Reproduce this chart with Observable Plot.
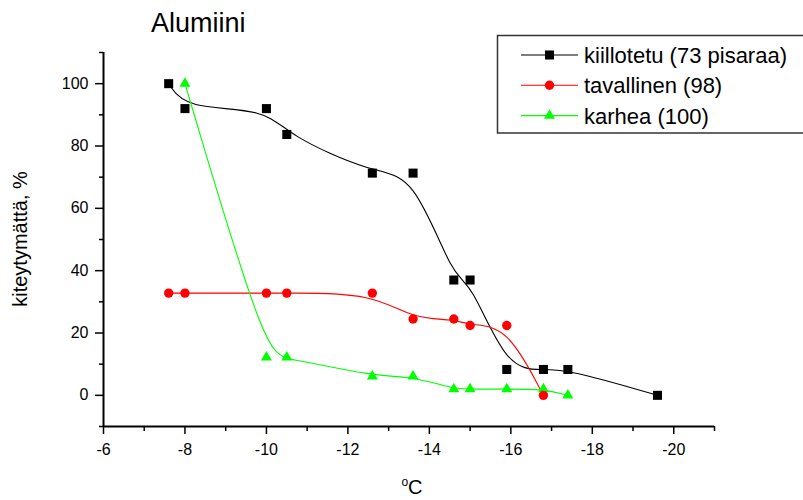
<!DOCTYPE html>
<html><head><meta charset="utf-8">
<script src="https://cdn.jsdelivr.net/npm/d3@7"></script>
<script src="https://cdn.jsdelivr.net/npm/@observablehq/plot@0.6"></script>
<style>
body{margin:0;background:#fff;}
#wrap{width:803px;height:500px;}
</style></head><body><div id="wrap"></div>
<script>
// ---- data ----
const title = "Alumiini";
const yLabel = "kiteytymättä, %";
const seriesNames = ["kiillotetu (73 pisaraa)", "tavallinen (98)", "karhea (100)"];

const kiillotetuX = [-7.6, -8, -10, -10.5, -12.6, -13.6, -14.6, -15, -15.9, -16.8, -17.4, -19.6];
const kiillotetuY = [100, 92, 92, 83.7, 71.3, 71.3, 37, 37, 8.3, 8.3, 8.3, 0];

const tavallinenX = [-7.6, -8, -10, -10.5, -12.6, -13.6, -14.6, -15, -15.9, -16.8];
const tavallinenY = [32.8, 32.8, 32.8, 32.8, 32.8, 24.5, 24.5, 22.4, 22.4, 0];

const karheaX = [-8, -10, -10.5, -12.6, -13.6, -14.6, -15, -15.9, -16.8, -17.4];
const karheaY = [100, 12.2, 12.2, 6.1, 6.1, 2, 2, 2, 2, 0];

const xTicks = [-6, -8, -10, -12, -14, -16, -18, -20];
const xMinorTicks = [-7, -9, -11, -13, -15, -17, -19, -21];
const yTicks = [0, 20, 40, 60, 80, 100];
const yMinorTicks = [-10, 10, 30, 50, 70, 90, 110];

// ---- build ----
const pts = (xs, ys) => xs.map((x, i) => ({x, y: ys[i]}));
const s1 = pts(kiillotetuX, kiillotetuY);
const s2 = pts(tavallinenX, tavallinenY);
const s3 = pts(karheaX, karheaY);

const colors = ["#000000", "#ff0000", "#00ff00"];
const symbols = ["square", "circle", "triangle"];
const radii = [5.1, 4.7, 4.1];
const font = "'Liberation Sans', Arial, sans-serif";

const chart = Plot.plot({
  width: 803, height: 500,
  marginLeft: 103, marginRight: 89, marginTop: 52, marginBottom: 74,
  x: {domain: [-6, -21]},
  y: {domain: [-10, 110]},
  style: {fontFamily: font, fontSize: "16px", color: "#000", background: "#fff", overflow: "visible"},
  marks: [
    Plot.axisX(xMinorTicks, {tickSize: 5, tickFormat: () => "", strokeWidth: 1.5, label: null}),
    Plot.axisX(xTicks, {tickSize: 8, tickPadding: 9, tickFormat: d => String(d), fontSize: 16, strokeWidth: 1.5, label: null}),
    Plot.axisY(yMinorTicks, {tickSize: 4, tickFormat: () => "", strokeWidth: 1.5, label: null}),
    Plot.axisY(yTicks, {tickSize: 8, tickPadding: 7, tickFormat: d => String(d), fontSize: 16, strokeWidth: 1.5, label: null}),
    Plot.ruleX([xTicks[0]], {strokeWidth: 2}),
    Plot.ruleY([yMinorTicks[0]], {strokeWidth: 2}),
    Plot.line(s1, {x: "x", y: "y", curve: "basis", stroke: colors[0], strokeWidth: 1.1}),
    Plot.line(s2, {x: "x", y: "y", curve: "basis", stroke: colors[1], strokeWidth: 1.1}),
    Plot.line(s3, {x: "x", y: "y", curve: "basis", stroke: colors[2], strokeWidth: 1.1}),
    Plot.dot(s3, {x: "x", y: "y", symbol: symbols[2], r: radii[2], fill: colors[2], stroke: null}),
    Plot.dot(s2, {x: "x", y: "y", symbol: symbols[1], r: radii[1], fill: colors[1], stroke: null}),
    Plot.dot(s1, {x: "x", y: "y", symbol: symbols[0], r: radii[0], fill: colors[0], stroke: null})
  ]
});
document.getElementById("wrap").appendChild(chart);

// ---- title, axis labels, legend ----
const svg = d3.select(chart);
svg.append("text").attr("x", 151).attr("y", 32).attr("font-size", 27)
  .attr("text-anchor", "start")
  .attr("font-family", font).attr("fill", "#000").text(title);

svg.append("text").attr("transform", "translate(27,239) rotate(-90)")
  .attr("text-anchor", "middle").attr("font-size", 20).attr("font-family", font)
  .attr("fill", "#000").text(yLabel);

const xl = svg.append("text").attr("x", 412).attr("y", 494).attr("text-anchor", "middle")
  .attr("font-family", font).attr("fill", "#000");
xl.append("tspan").attr("font-size", 12).attr("dy", -8).text("o");
xl.append("tspan").attr("font-size", 20).attr("dy", 8).text("C");

const lg = svg.append("g");
lg.append("rect").attr("x", 497.5).attr("y", 35.5).attr("width", 310).attr("height", 97.5)
  .attr("fill", "none").attr("stroke", "#333").attr("stroke-width", 1.5);
const symMap = {square: d3.symbolSquare, circle: d3.symbolCircle, triangle: d3.symbolTriangle};
seriesNames.forEach((name, i) => {
  const cy = 55 + i * 30.3;
  lg.append("line").attr("x1", 521).attr("x2", 578).attr("y1", cy).attr("y2", cy)
    .attr("stroke", colors[i]).attr("stroke-width", 1.1);
  lg.append("path").attr("transform", `translate(549.5,${cy})`)
    .attr("d", d3.symbol(symMap[symbols[i]], Math.PI * radii[i] * radii[i])())
    .attr("fill", colors[i]);
  lg.append("text").attr("x", 584).attr("y", cy + 8).attr("font-size", 22)
    .attr("text-anchor", "start")
    .attr("font-family", font).attr("fill", "#000").text(name);
});
</script>
</body></html>
